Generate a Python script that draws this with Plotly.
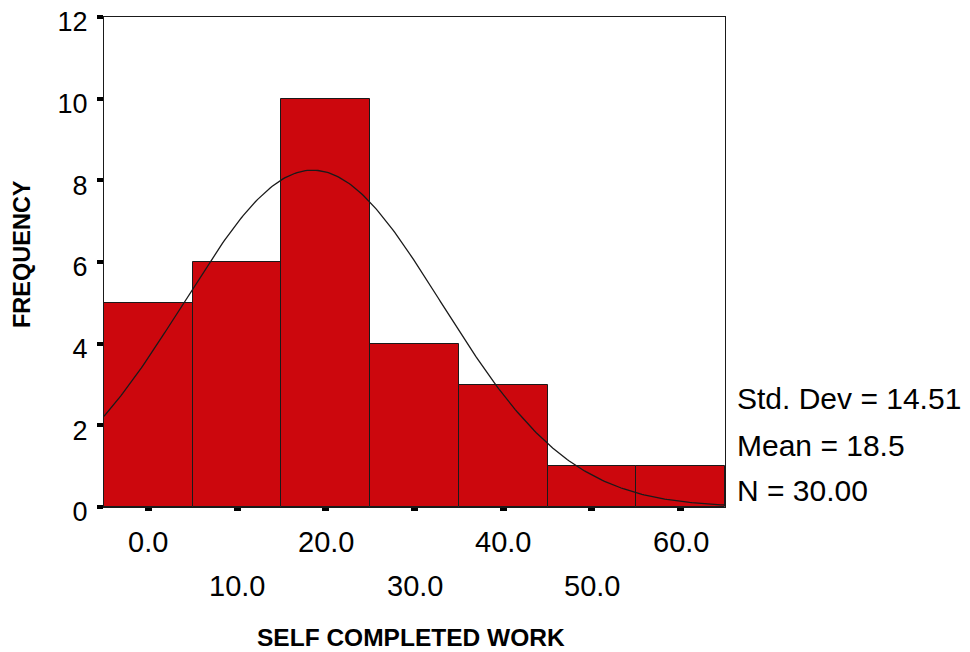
import numpy as np
import plotly.graph_objects as go

# Data
bin_centers = [0, 10, 20, 30, 40, 50, 60]
frequencies = [5, 6, 10, 4, 3, 1, 1]
row1_labels = ["0.0", "20.0", "40.0", "60.0"]
row1_pos = [0, 20, 40, 60]
row2_labels = ["10.0", "30.0", "50.0"]
row2_pos = [10, 30, 50]
y_ticks = [0, 2, 4, 6, 8, 10, 12]
stat_std = 14.51
stat_mean = 18.5
stat_n = 30
bin_width = 10

FONT = "Arial, Liberation Sans, sans-serif"
RED = "#CC070D"

# fitted normal curve from the displayed statistics
xc = np.linspace(-5, 65, 300)
yc = stat_n * bin_width / (stat_std * np.sqrt(2 * np.pi)) * np.exp(-0.5 * ((xc - stat_mean) / stat_std) ** 2)

fig = go.Figure()
fig.add_trace(go.Bar(
    x=bin_centers, y=frequencies, width=bin_width,
    marker=dict(color=RED, line=dict(color="#1a1a1a", width=1)),
    showlegend=False, hoverinfo="x+y"))
fig.add_trace(go.Scatter(
    x=xc, y=yc, mode="lines", line=dict(color="#1a1a1a", width=1.3),
    showlegend=False, hoverinfo="skip"))

ann = []
for lab, p in zip(row1_labels, row1_pos):
    ann.append(dict(x=p, y=0, xref="x", yref="y", text=lab, showarrow=False,
                    yanchor="middle", yshift=-35, font=dict(size=29, color="black", family=FONT)))
for lab, p in zip(row2_labels, row2_pos):
    ann.append(dict(x=p, y=0, xref="x", yref="y", text=lab, showarrow=False,
                    yanchor="middle", yshift=-79, font=dict(size=29, color="black", family=FONT)))

stats = [f"Std. Dev = {stat_std:.2f}", f"Mean = {stat_mean:.1f}", f"N = {stat_n:.2f}"]
stat_y = [0.222, 0.126, 0.034]
for t, yy in zip(stats, stat_y):
    ann.append(dict(x=1, y=yy, xref="paper", yref="paper", text=t, showarrow=False,
                    xanchor="left", yanchor="middle", xshift=10,
                    font=dict(size=30, color="black", family=FONT)))

ann.append(dict(x=0.5, y=0, xref="paper", yref="paper", text="<b>SELF COMPLETED WORK</b>",
                showarrow=False, yanchor="middle", yshift=-130, xshift=-4,
                font=dict(size=24.5, color="black", family=FONT)))
ann.append(dict(x=0, y=0.5, xref="paper", yref="paper", text="<b>FREQUENCY</b>",
                showarrow=False, xanchor="center", xshift=-82, yshift=8, textangle=-90,
                font=dict(size=23.5, color="black", family=FONT)))

fig.update_layout(
    width=962, height=644,
    margin=dict(l=96, r=245, t=9, b=145),
    paper_bgcolor="white", plot_bgcolor="white",
    bargap=0,
    annotations=ann,
    xaxis=dict(range=[-5, 65], tickvals=bin_centers, showticklabels=False,
               ticks="outside", ticklen=3, tickwidth=7, tickcolor="black",
               showline=True, linecolor="#1a1a1a", linewidth=1, mirror=True,
               showgrid=False, zeroline=False, fixedrange=True, automargin=False),
    yaxis=dict(range=[0, 12], tickvals=y_ticks, ticks="outside", ticklen=6, tickwidth=4,
               tickcolor="black", ticklabelstandoff=4, ticklabeloverflow="allow",
               ticklabelshift=5,
               tickfont=dict(size=27, color="black", family=FONT),
               showline=True, linecolor="#1a1a1a", linewidth=1, mirror=True,
               showgrid=False, zeroline=False, fixedrange=True, automargin=False),
)

fig.write_html("out.html")
